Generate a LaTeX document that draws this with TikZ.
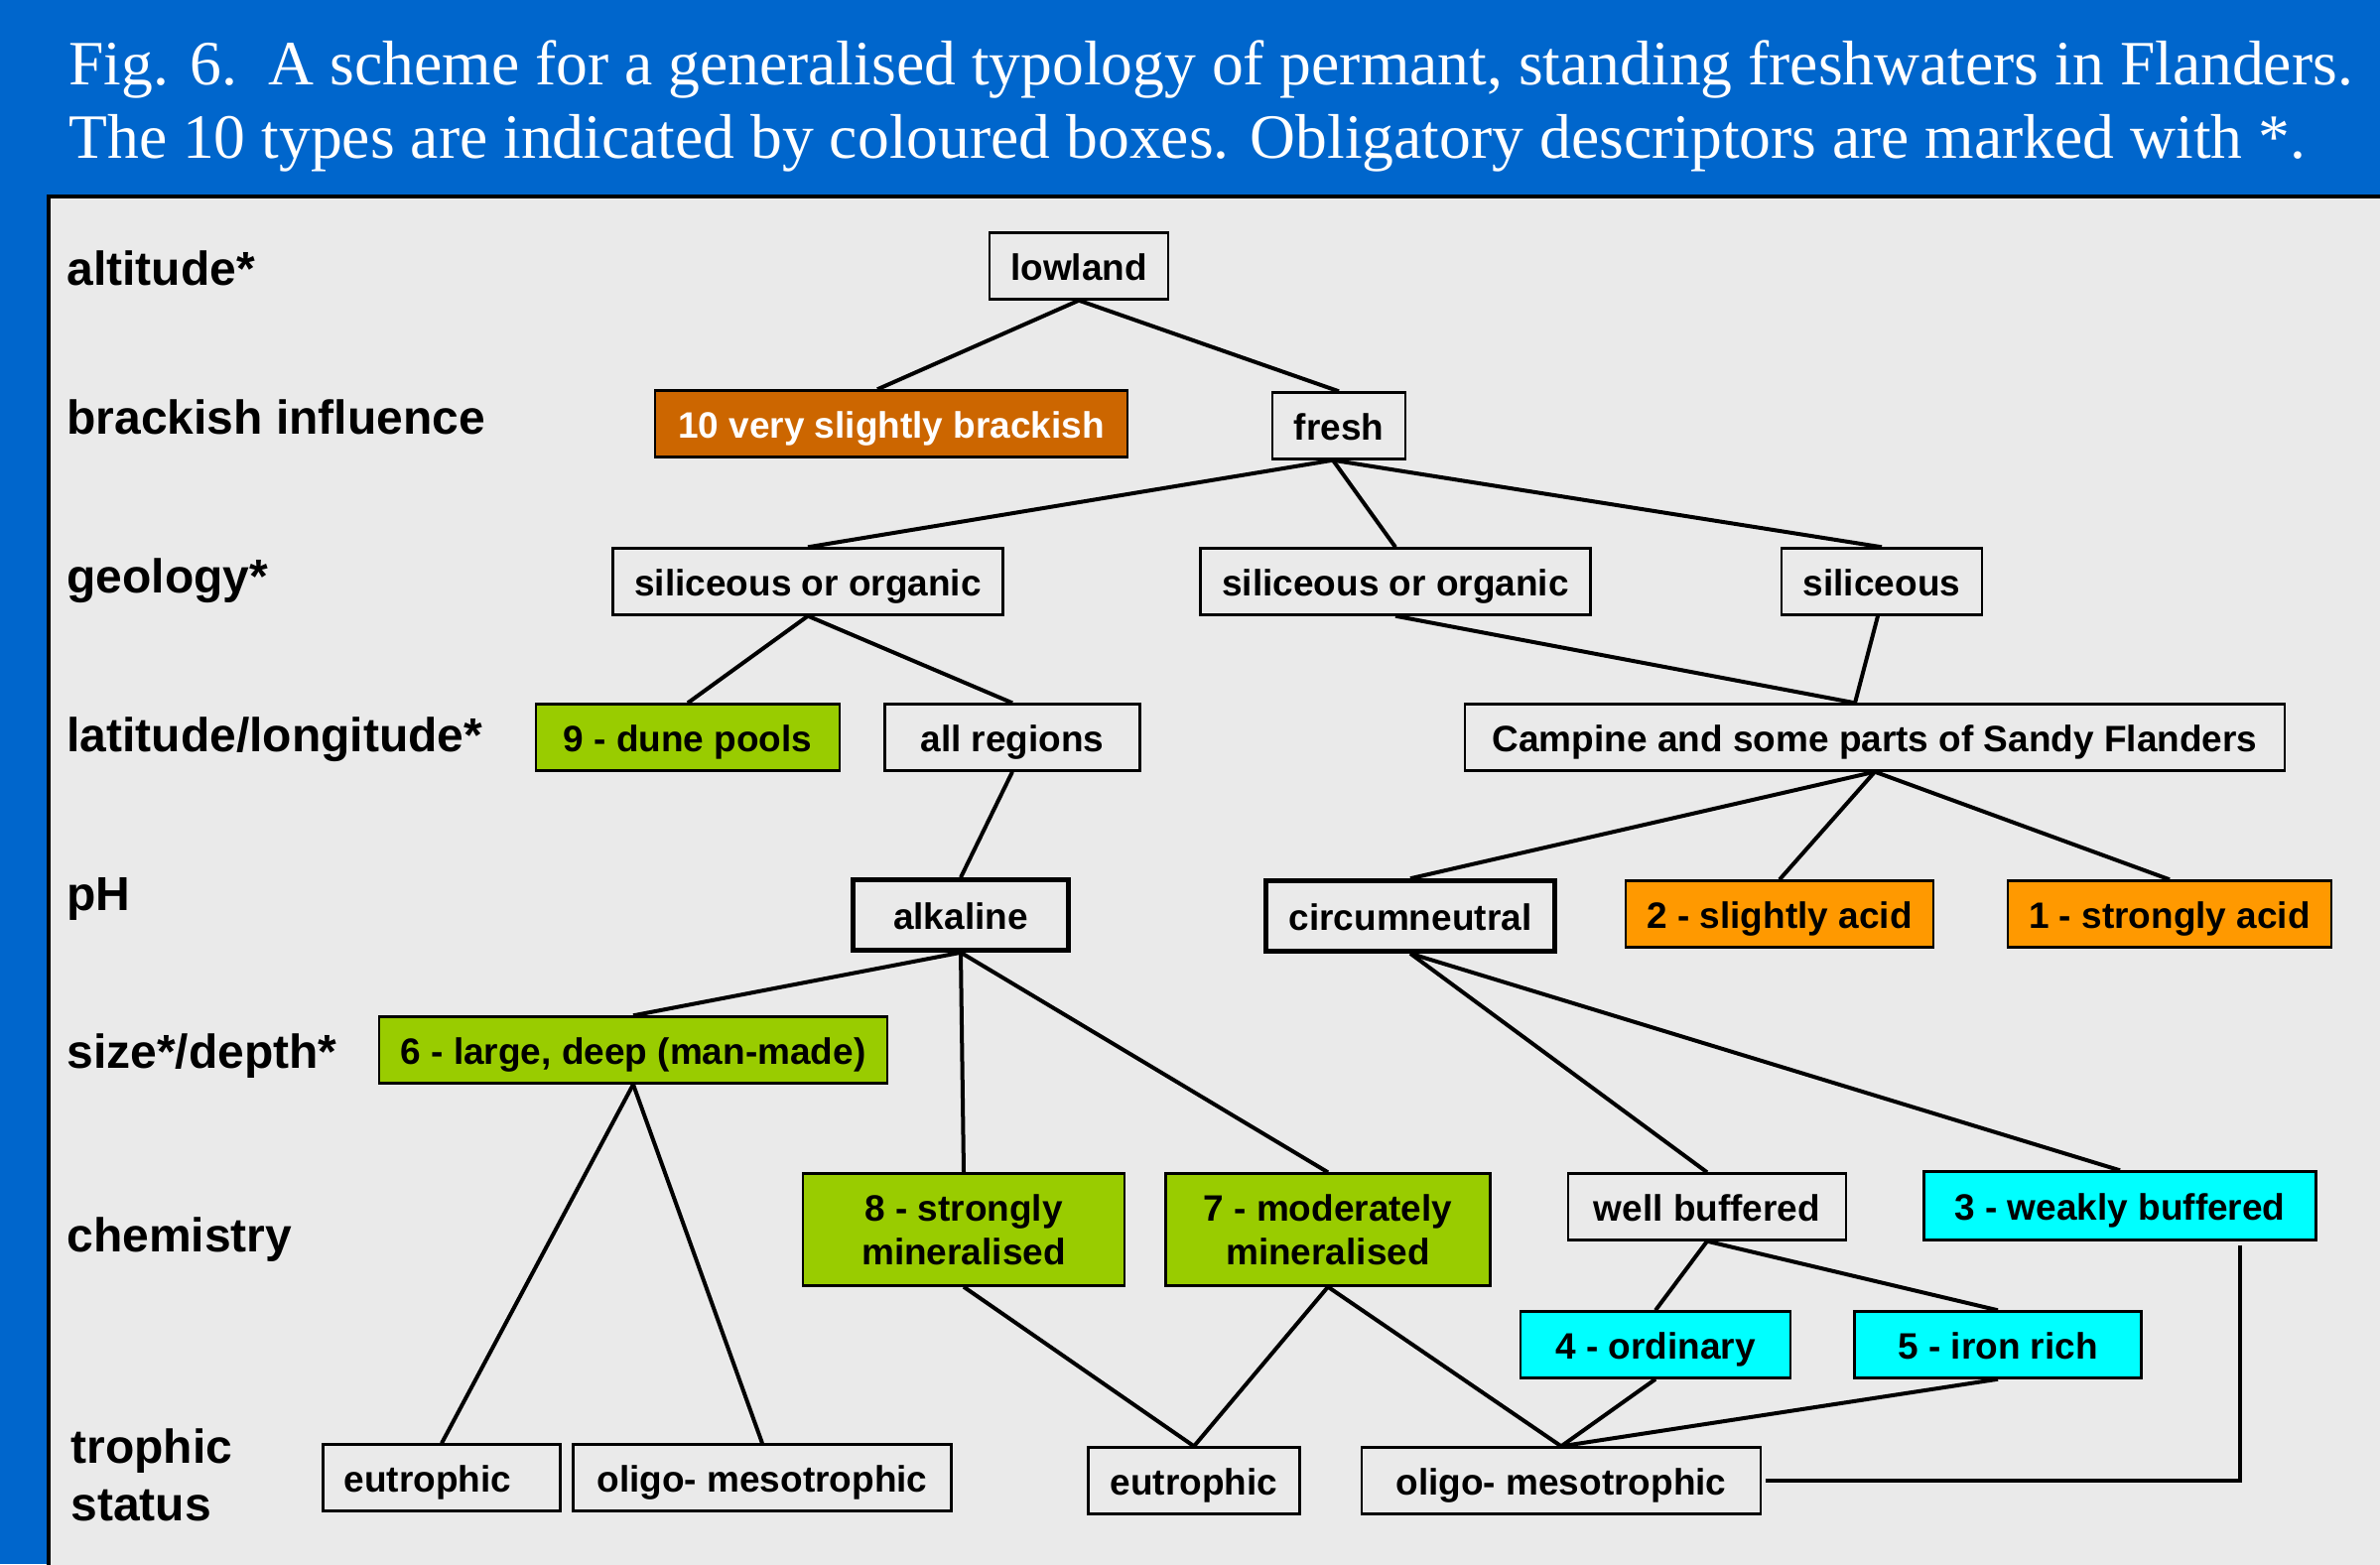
\documentclass[tikz,border=0pt]{standalone}
\usepackage{fontspec}
\setmainfont{Liberation Sans}
\newfontfamily\titlefont{Liberation Serif}
\definecolor{bgblue}{HTML}{0066CC}
\definecolor{panelgray}{HTML}{EAEAEA}
\definecolor{tgreen}{HTML}{99CC00}
\definecolor{torange}{HTML}{FF9900}
\definecolor{tbrown}{HTML}{CC6600}
\definecolor{tcyan}{HTML}{00FFFF}
\begin{document}
\begin{tikzpicture}[x=0.5pt,y=-0.5pt,
  basebox/.style={draw=black, line width=1.2pt, inner sep=0pt, align=center,
    font=\fontsize{18.5}{22}\selectfont\bfseries},
  box/.style={basebox, minimum height=33.5pt, text height=17pt, text depth=3pt},
  twobox/.style={basebox, minimum height=56.5pt},
  thickbox/.style={box, line width=2.3pt, minimum height=35.5pt},
  lbl/.style={anchor=base west, inner sep=0pt, font=\fontsize{24}{28}\selectfont\bfseries},
  ttl/.style={anchor=base west, inner sep=0pt, text=white, font=\titlefont\fontsize{31.8}{38}\selectfont},
  link/.style={line width=2pt}]
\useasboundingbox (0,0) rectangle (2398,1576);
\clip (0,0) rectangle (2398,1576);
\fill[bgblue] (0,0) rectangle (2398,1576);
\filldraw[fill=panelgray, draw=black, line width=2.3pt] (49,198) rectangle (2440,1620);

% title
\node[ttl] (t1) at (69,85) {Fig. 6.\ \ A scheme for a generalised typology of permant, standing freshwaters in Flanders.};
\node[ttl] (t2) at (69,159) {The 10 types are indicated by coloured boxes. Obligatory descriptors are marked with *.};

% row labels
\node[lbl] (Lalt) at (67,287) {altitude*};
\node[lbl] (Lbra) at (67,437) {brackish influence};
\node[lbl] (Lgeo) at (67,597) {geology*};
\node[lbl] (Llat) at (67,757) {latitude/longitude*};
\node[lbl] (LpH) at (67,917) {pH};
\node[lbl] (Lsiz) at (67,1076) {size*/depth*};
\node[lbl] (Lche) at (67,1261) {chemistry};
\node[lbl] (Ltro) at (71,1474) {trophic};
\node[lbl] (Lsta) at (71,1532) {status};

% nodes
\node[box, minimum width=90pt] (lowland) at (1087,268) {lowland};
\node[box, minimum width=238pt, fill=tbrown, text=white] (brackish) at (898,427) {10 very slightly brackish};
\node[box, minimum width=67pt] (fresh) at (1349,429) {fresh};
\node[box, minimum width=196.5pt] (silL) at (814,586) {siliceous or organic};
\node[box, minimum width=196.5pt] (silM) at (1406,586) {siliceous or organic};
\node[box, minimum width=101pt] (sil) at (1896,586) {siliceous};
\node[box, minimum width=153pt, fill=tgreen] (dune) at (693,743) {9 - dune pools};
\node[box, minimum width=128.5pt] (allreg) at (1020,743) {all regions};
\node[box, minimum width=413pt] (campine) at (1889,743) {Campine and some parts of Sandy Flanders};
\node[thickbox, minimum width=108.5pt] (alkaline) at (968,922) {alkaline};
\node[thickbox, minimum width=145.5pt] (circum) at (1421,923) {circumneutral};
\node[box, minimum width=155pt, fill=torange] (slacid) at (1793,921) {2 - slightly acid};
\node[box, minimum width=163pt, fill=torange] (stacid) at (2186,921) {1 - strongly acid};
\node[box, minimum width=256pt, fill=tgreen] (six) at (638,1058) {6 - large, deep (man-made)};
\node[twobox, minimum width=162pt, fill=tgreen] (eight) at (971,1239) {8 - strongly\\mineralised};
\node[twobox, minimum width=163.5pt, fill=tgreen] (seven) at (1338,1239) {7 - moderately\\mineralised};
\node[box, minimum width=140pt] (wellbuf) at (1720,1216) {well buffered};
\node[box, minimum width=197.5pt, minimum height=34.5pt, fill=tcyan] (three) at (2136,1215) {3 - weakly buffered};
\node[box, minimum width=136pt, fill=tcyan] (four) at (1668,1355) {4 - ordinary};
\node[box, minimum width=144.5pt, fill=tcyan] (five) at (2013,1355) {5 - iron rich};
\node[box, minimum width=119.5pt, text width=98.5pt, align=left] (eutL) at (445,1489) {eutrophic};
\node[box, minimum width=190.5pt] (oligoL) at (768,1489) {oligo- mesotrophic};
\node[box, minimum width=106.5pt] (eutM) at (1203,1492) {eutrophic};
\node[box, minimum width=201pt] (oligoR) at (1573,1492) {oligo- mesotrophic};

% connectors
\draw[link] (lowland.south) -- ([xshift=-7pt]brackish.north);
\draw[link] (lowland.south) -- (fresh.north);
\draw[link] ([xshift=-3pt]fresh.south) -- (silL.north);
\draw[link] ([xshift=-3pt]fresh.south) -- (silM.north);
\draw[link] ([xshift=-3pt]fresh.south) -- (sil.north);
\draw[link] (silL.south) -- (dune.north);
\draw[link] (silL.south) -- (allreg.north);
\draw[link] (silM.south) -- ([xshift=-10pt]campine.north);
\draw[link] ([xshift=-2pt]sil.south) -- ([xshift=-10pt]campine.north);
\draw[link] (allreg.south) -- (alkaline.north);
\draw[link] (campine.south) -- (circum.north);
\draw[link] (campine.south) -- (slacid.north);
\draw[link] (campine.south) -- (stacid.north);
\draw[link] (alkaline.south) -- (six.north);
\draw[link] (alkaline.south) -- (eight.north);
\draw[link] (alkaline.south) -- (seven.north);
\draw[link] (circum.south) -- (wellbuf.north);
\draw[link] (circum.south) -- (three.north);
\draw[link] (six.south) -- (eutL.north);
\draw[link] (six.south) -- (oligoL.north);
\draw[link] (eight.south) -- (eutM.north);
\draw[link] (seven.south) -- (eutM.north);
\draw[link] (seven.south) -- (oligoR.north);
\draw[link] (wellbuf.south) -- (four.north);
\draw[link] (wellbuf.south) -- (five.north);
\draw[link] (four.south) -- (oligoR.north);
\draw[link] (five.south) -- (oligoR.north);
\draw[link] ([xshift=60.5pt,yshift=-2pt]three.south) |- ([xshift=2pt]oligoR.east);
\end{tikzpicture}
\end{document}
